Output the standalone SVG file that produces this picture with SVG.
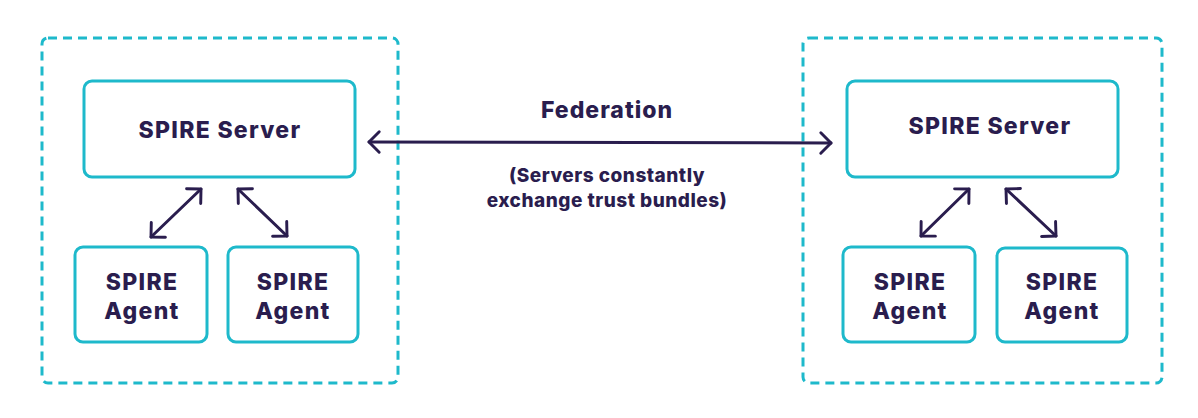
<svg xmlns="http://www.w3.org/2000/svg" width="1198" height="418" viewBox="0 0 1198 418">
<style>
.bg{fill:#ffffff}
.outer{fill:none;stroke:#1eb9cb;stroke-width:3;stroke-dasharray:9 6}
.box{fill:#ffffff;stroke:#1eb9cb;stroke-width:3}
.t{font-family:Inter,"Noto Sans",sans-serif;font-weight:800;fill:#2a1d4e;text-anchor:middle}
.big{font-size:23px;letter-spacing:1.3px}
.fed{font-size:23px;letter-spacing:1px}
.small{font-size:19px;letter-spacing:0.5px}
.conn{stroke:#2a1d4e;stroke-width:3;fill:none;stroke-linecap:round;marker-start:url(#ah);marker-end:url(#ah)}
</style>
<defs>
<marker id="ah" viewBox="0 0 20 20" refX="10" refY="10" markerWidth="8.5" markerHeight="8.5" markerUnits="strokeWidth" orient="auto-start-reverse">
<path d="M2 2 L10 10 L2 18" fill="none" stroke="#2a1d4e" stroke-width="2.3" stroke-linecap="round" stroke-linejoin="round"/>
</marker>
</defs>
<rect class="bg" x="0" y="0" width="1198" height="418"/>
<g id="cluster-left">
<rect class="outer" x="42" y="38" width="356" height="345" rx="6"/>
</g>
<g id="cluster-right">
<rect class="outer" x="803" y="38" width="359" height="345" rx="6"/>
</g>
<g id="server-left">
<rect class="box" x="84" y="81" width="271" height="96" rx="8"/>
<text class="t big" x="220" y="138">SPIRE Server</text>
</g>
<g id="agent-left-1">
<rect class="box" x="75" y="247" width="132" height="95" rx="8"/>
<text class="t big" x="142" y="290">SPIRE</text>
<text class="t big" x="142" y="319">Agent</text>
</g>
<g id="agent-left-2">
<rect class="box" x="228" y="247" width="130" height="95" rx="8"/>
<text class="t big" x="293" y="290">SPIRE</text>
<text class="t big" x="293" y="319">Agent</text>
</g>
<g id="server-right">
<rect class="box" x="847" y="81" width="271" height="96" rx="8"/>
<text class="t big" x="990" y="134">SPIRE Server</text>
</g>
<g id="agent-right-1">
<rect class="box" x="843" y="247" width="132" height="95" rx="8"/>
<text class="t big" x="910" y="290">SPIRE</text>
<text class="t big" x="910" y="319">Agent</text>
</g>
<g id="agent-right-2">
<rect class="box" x="997" y="248" width="130" height="94" rx="8"/>
<text class="t big" x="1062" y="290">SPIRE</text>
<text class="t big" x="1062" y="319">Agent</text>
</g>
<g id="federation-label">
<text class="t fed" x="607" y="118">Federation</text>
<text class="t small" x="607" y="182">(Servers constantly</text>
<text class="t small" x="607" y="207">exchange trust bundles)</text>
</g>
<g id="connectors">
<line class="conn" x1="369" y1="142" x2="831" y2="143"/>
<line class="conn" x1="151" y1="237" x2="201" y2="189"/>
<line class="conn" x1="238" y1="189" x2="287" y2="236"/>
<line class="conn" x1="921" y1="236" x2="969" y2="189"/>
<line class="conn" x1="1006" y1="189" x2="1056" y2="236"/>
</g>
</svg>
